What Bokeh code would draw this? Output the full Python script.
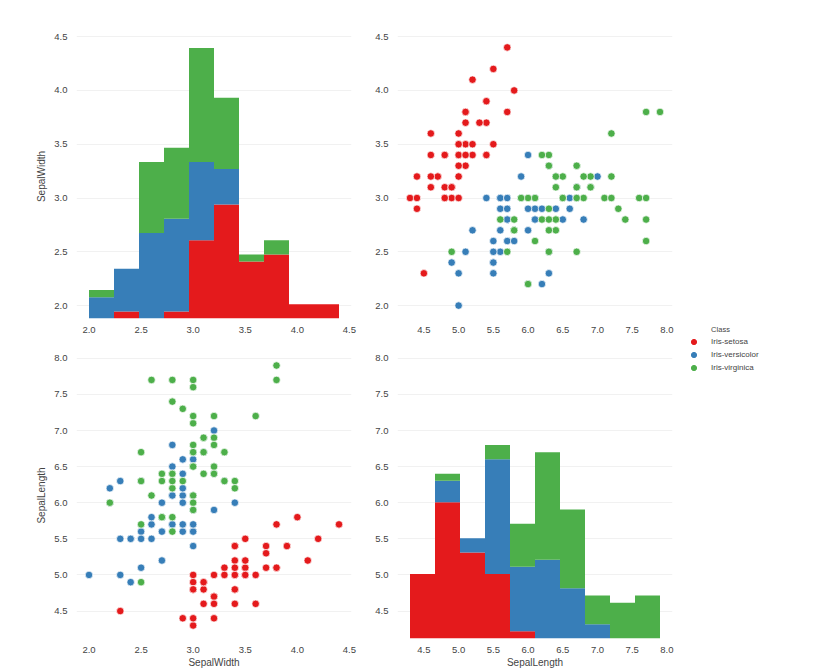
import numpy as np
from bokeh.plotting import figure
from bokeh.layouts import row, column
from bokeh.models import (Range1d, FixedTicker, PrintfTickFormatter, Legend,
                          LegendItem, Label)
from bokeh.embed import file_html
from bokeh.resources import INLINE

CLASSES = ["Iris-setosa", "Iris-versicolor", "Iris-virginica"]
COLORS = ["#e41a1c", "#377eb8", "#4daf4a"]

SETOSA_SL = [5.1, 4.9, 4.7, 4.6, 5.0, 5.4, 4.6, 5.0, 4.4, 4.9, 5.4, 4.8, 4.8, 4.3, 5.8, 5.7, 5.4,
             5.1, 5.7, 5.1, 5.4, 5.1, 4.6, 5.1, 4.8, 5.0, 5.0, 5.2, 5.2, 4.7, 4.8, 5.4, 5.2, 5.5,
             4.9, 5.0, 5.5, 4.9, 4.4, 5.1, 5.0, 4.5, 4.4, 5.0, 5.1, 4.8, 5.1, 4.6, 5.3, 5.0]
SETOSA_SW = [3.5, 3.0, 3.2, 3.1, 3.6, 3.9, 3.4, 3.4, 2.9, 3.1, 3.7, 3.4, 3.0, 3.0, 4.0, 4.4, 3.9,
             3.5, 3.8, 3.8, 3.4, 3.7, 3.6, 3.3, 3.4, 3.0, 3.4, 3.5, 3.4, 3.2, 3.1, 3.4, 4.1, 4.2,
             3.1, 3.2, 3.5, 3.1, 3.0, 3.4, 3.5, 2.3, 3.2, 3.5, 3.8, 3.0, 3.8, 3.2, 3.7, 3.3]
VERSICOLOR_SL = [7.0, 6.4, 6.9, 5.5, 6.5, 5.7, 6.3, 4.9, 6.6, 5.2, 5.0, 5.9, 6.0, 6.1, 5.6, 6.7,
                 5.6, 5.8, 6.2, 5.6, 5.9, 6.1, 6.3, 6.1, 6.4, 6.6, 6.8, 6.7, 6.0, 5.7, 5.5, 5.5,
                 5.8, 6.0, 5.4, 6.0, 6.7, 6.3, 5.6, 5.5, 5.5, 6.1, 5.8, 5.0, 5.6, 5.7, 5.7, 6.2,
                 5.1, 5.7]
VERSICOLOR_SW = [3.2, 3.2, 3.1, 2.3, 2.8, 2.8, 3.3, 2.4, 2.9, 2.7, 2.0, 3.0, 2.2, 2.9, 2.9, 3.1,
                 3.0, 2.7, 2.2, 2.5, 3.2, 2.8, 2.5, 2.8, 2.9, 3.0, 2.8, 3.0, 2.9, 2.6, 2.4, 2.4,
                 2.7, 2.7, 3.0, 3.4, 3.1, 2.3, 3.0, 2.5, 2.6, 3.0, 2.6, 2.3, 2.7, 3.0, 2.9, 2.9,
                 2.5, 2.8]
VIRGINICA_SL = [6.3, 5.8, 7.1, 6.3, 6.5, 7.6, 4.9, 7.3, 6.7, 7.2, 6.5, 6.4, 6.8, 5.7, 5.8, 6.4,
                6.5, 7.7, 7.7, 6.0, 6.9, 5.6, 7.7, 6.3, 6.7, 7.2, 6.2, 6.1, 6.4, 7.2, 7.4, 7.9,
                6.4, 6.3, 6.1, 7.7, 6.3, 6.4, 6.0, 6.9, 6.7, 6.9, 5.8, 6.8, 6.7, 6.7, 6.3, 6.5,
                6.2, 5.9]
VIRGINICA_SW = [3.3, 2.7, 3.0, 2.9, 3.0, 3.0, 2.5, 2.9, 2.5, 3.6, 3.2, 2.7, 3.0, 2.5, 2.8, 3.2,
                3.0, 3.8, 2.6, 2.2, 3.2, 2.8, 2.8, 2.7, 3.3, 3.2, 2.8, 3.0, 2.8, 3.0, 2.8, 3.8,
                2.8, 2.8, 2.6, 3.0, 3.4, 3.1, 3.0, 3.1, 3.1, 3.1, 2.7, 3.2, 3.3, 3.0, 2.5, 3.0,
                3.4, 3.0]

# stacked histogram counts (10 bins between min and max of each variable)
SW_HIST_SETOSA = [0, 1, 0, 1, 11, 16, 8, 9, 2, 2]
SW_HIST_VERSICOLOR = [3, 6, 12, 13, 11, 5, 0, 0, 0, 0]
SW_HIST_VIRGINICA = [1, 0, 10, 10, 16, 10, 1, 2, 0, 0]
SL_HIST_SETOSA = [9, 19, 12, 9, 1, 0, 0, 0, 0, 0]
SL_HIST_VERSICOLOR = [0, 3, 2, 16, 9, 11, 7, 2, 0, 0]
SL_HIST_VIRGINICA = [0, 1, 0, 2, 6, 15, 11, 4, 5, 6]

SW_TICKS = [2.0, 2.5, 3.0, 3.5, 4.0, 4.5]
SL_TICKS = [4.5, 5.0, 5.5, 6.0, 6.5, 7.0, 7.5, 8.0]

SL = [SETOSA_SL, VERSICOLOR_SL, VIRGINICA_SL]
SW = [SETOSA_SW, VERSICOLOR_SW, VIRGINICA_SW]
SW_HIST = [SW_HIST_SETOSA, SW_HIST_VERSICOLOR, SW_HIST_VIRGINICA]
SL_HIST = [SL_HIST_SETOSA, SL_HIST_VERSICOLOR, SL_HIST_VIRGINICA]

TEXT_FONT = "Liberation Sans"
TEXT_COLOR = "#444444"


def padded_range(values):
    a = np.concatenate([np.asarray(v, dtype=float) for v in values])
    lo, hi = a.min(), a.max()
    pad = 0.05 * (hi - lo)
    return lo, hi, Range1d(lo - pad, hi + pad)


sw_lo, sw_hi, SW_RANGE = padded_range(SW)
sl_lo, sl_hi, SL_RANGE = padded_range(SL)

max_total = max(np.sum(SW_HIST, axis=0).max(), np.sum(SL_HIST, axis=0).max())
COUNT_MAX = 1.05 * max_total


def make_fig(xr, yr, fh, left, right, top, bottom, xticks, yticks, xlabel=None, ylabel=None):
    p = figure(frame_width=275, frame_height=fh, x_range=xr, y_range=yr,
               min_border_left=left, min_border_right=right,
               min_border_top=top, min_border_bottom=bottom,
               toolbar_location=None, tools="", output_backend="svg")
    p.outline_line_color = None
    p.background_fill_color = "white"
    p.border_fill_color = "white"
    p.xgrid.grid_line_color = None
    p.ygrid.grid_line_color = "#f1f1f1"
    p.xaxis.ticker = FixedTicker(ticks=xticks)
    p.yaxis.ticker = FixedTicker(ticks=yticks)
    for ax in (p.xaxis[0], p.yaxis[0]):
        ax.axis_line_color = None
        ax.major_tick_line_color = None
        ax.minor_tick_line_color = None
        ax.major_tick_out = 0
        ax.major_tick_in = 0
        ax.minor_tick_out = 0
        ax.minor_tick_in = 0
        ax.formatter = PrintfTickFormatter(format="%.1f")
        ax.major_label_text_font = TEXT_FONT
        ax.major_label_text_font_size = "9.5px"
        ax.major_label_text_color = TEXT_COLOR
        ax.axis_label_text_font = TEXT_FONT
        ax.axis_label_text_font_size = "10px"
        ax.axis_label_text_font_style = "normal"
        ax.axis_label_text_color = TEXT_COLOR
    p.xaxis.major_label_standoff = 8
    p.yaxis.major_label_standoff = 9
    p.xaxis.axis_label_standoff = 1
    p.yaxis.axis_label_standoff = 4
    if xlabel:
        p.xaxis.axis_label = xlabel
    if ylabel:
        p.yaxis.axis_label = ylabel
    return p


def add_hist(p, lo, hi, counts):
    edges = np.linspace(lo, hi, len(counts[0]) + 1)
    p.extra_y_ranges = {"count": Range1d(0, COUNT_MAX)}
    bottom = np.zeros(len(edges) - 1)
    for cnt, color in zip(counts, COLORS):
        cnt = np.asarray(cnt, dtype=float)
        top = bottom + cnt
        m = cnt > 0
        p.quad(left=edges[:-1][m], right=edges[1:][m], bottom=bottom[m], top=top[m],
               fill_color=color, line_color=None, y_range_name="count")
        bottom = top


def add_scatter(p, xs, ys):
    for x, y, color in zip(xs, ys, COLORS):
        p.scatter(x=x, y=y, size=7.5, fill_color=color, line_color="white", line_width=0.7)


# top-left: SepalWidth histogram
p1 = make_fig(SW_RANGE, SW_RANGE, 284, 76, 13, 34, 25, SW_TICKS, SW_TICKS, ylabel="SepalWidth")
add_hist(p1, sw_lo, sw_hi, SW_HIST)

# top-right: SepalLength vs SepalWidth
p2 = make_fig(SL_RANGE, SW_RANGE, 284, 33, 8, 34, 25, SL_TICKS, SW_TICKS)
add_scatter(p2, SL, SW)

# bottom-left: SepalWidth vs SepalLength
p3 = make_fig(SW_RANGE, SL_RANGE, 286, 76, 13, 9, 33, SW_TICKS, SL_TICKS,
              xlabel="SepalWidth", ylabel="SepalLength")
add_scatter(p3, SW, SL)

# bottom-right: SepalLength histogram
p4 = make_fig(SL_RANGE, SL_RANGE, 286, 33, 8, 9, 33, SL_TICKS, SL_TICKS, xlabel="SepalLength")
add_hist(p4, sl_lo, sl_hi, SL_HIST)

# legend panel (its renderers hold the class data but the view range shows none of it)
pl = figure(width=148, height=671, x_range=(0, 1), y_range=(0, 1),
            x_axis_location=None, y_axis_location=None,
            min_border_left=0, min_border_right=0, min_border_top=0, min_border_bottom=0,
            toolbar_location=None, tools="", output_backend="svg")
pl.outline_line_color = None
pl.xgrid.grid_line_color = None
pl.ygrid.grid_line_color = None
items = []
for name, color, x, y in zip(CLASSES, COLORS, SL, SW):
    r = pl.scatter(x=x, y=y, size=6, fill_color=color, line_color=color)
    items.append(LegendItem(label=name, renderers=[r]))
legend = Legend(items=items, location=(6, 297), orientation="vertical",
                glyph_width=15, glyph_height=13, label_height=13, spacing=0,
                label_standoff=10, padding=0, margin=0,
                border_line_color=None, background_fill_alpha=0,
                label_text_font=TEXT_FONT, label_text_font_size="8px",
                label_text_color=TEXT_COLOR)
pl.add_layout(legend, "center")
pl.add_layout(Label(x=40, y=342, x_units="screen", y_units="screen", text="Class",
                    text_align="center", text_baseline="middle", text_font=TEXT_FONT,
                    text_font_size="7.5px", text_color=TEXT_COLOR))

layout = row(column(row(p1, p2), row(p3, p4)), pl)

open("out.html", "w").write(file_html(layout, INLINE))
